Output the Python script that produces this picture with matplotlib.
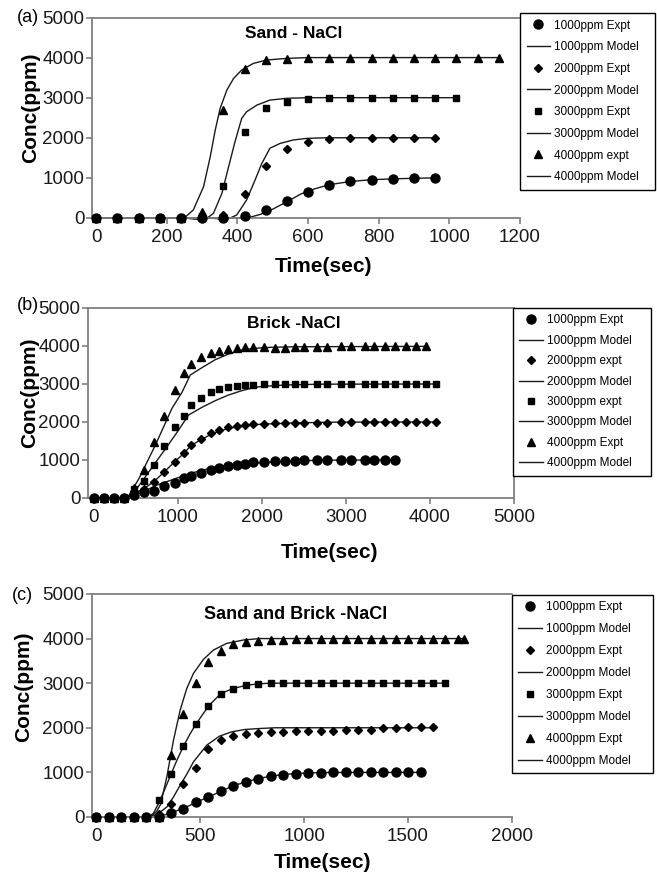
import matplotlib
matplotlib.use("Agg")
import matplotlib.pyplot as plt

plt.rcParams["font.family"] = ["Liberation Sans", "DejaVu Sans"]

# ========== Panel (a): Sand - NaCl ==========
a_t = [0, 60, 120, 180, 240, 300, 360, 420, 480, 540, 600, 660, 720, 780,
       840, 900, 960, 1020, 1080, 1140]
a_1000 = [0, 0, 0, 0, 0, 0, 0, 58, 208, 415, 640, 830, 915, 955, 970, 990, 1000]
a_2000 = [0, 0, 0, 0, 0, 0, 80, 600, 1305, 1730, 1890, 1970, 1990, 2000, 2000,
          2000, 2000]
a_3000 = [0, 0, 0, 0, 0, 40, 790, 2145, 2745, 2900, 2975, 2985, 3000, 3000,
          3000, 3000, 3000, 3000]
a_4000 = [0, 0, 0, 0, 0, 150, 2700, 3715, 3930, 3965, 4000, 4000, 4000, 4000,
          4000, 4000, 4000, 4000, 4000, 4000]

a_m1000_t = [0, 400, 430, 465, 500, 540, 580, 620, 660, 720, 780, 840, 900, 960]
a_m1000_c = [0, 0, 5, 90, 220, 405, 600, 730, 830, 910, 955, 975, 990, 1000]
a_m2000_t = [0, 320, 370, 398, 426, 450, 469, 492, 521, 558, 596, 650, 960]
a_m2000_c = [0, 0, -40, 75, 450, 950, 1360, 1740, 1860, 1945, 1985, 2000, 2000]
a_m3000_t = [0, 250, 290, 310, 332, 356, 375, 393, 412, 426, 455, 492, 540,
             600, 1020]
a_m3000_c = [0, 0, -40, -30, 115, 615, 1280, 1900, 2485, 2650, 2815, 2940,
             2985, 3000, 3000]
a_m4000_t = [0, 225, 247, 275, 304, 323, 337, 351, 370, 389, 412, 445, 483,
             540, 600, 1140]
a_m4000_c = [0, 0, -20, 200, 780, 1530, 2190, 2735, 3190, 3480, 3690, 3855,
             3940, 3980, 4000, 4000]

# ========== Panel (b): Brick -NaCl ==========
b_t = [0, 120, 240, 360, 480, 600, 720, 840, 960, 1075, 1155, 1280, 1400,
       1495, 1600, 1700, 1800, 1900, 2020, 2150, 2270, 2390, 2500, 2650, 2775,
       2940, 3060, 3230, 3340, 3460, 3580, 3710, 3835, 3955, 4070]
b_1000 = [0, 0, 0, 0, 70, 150, 195, 310, 400, 515, 580, 665, 735, 800, 845,
          880, 905, 935, 955, 965, 975, 985, 990, 995, 1000, 1000, 1000, 1000,
          1000, 1000, 1000]
b_2000 = [0, 0, 0, 0, 130, 240, 430, 693, 950, 1180, 1395, 1560, 1705, 1790,
          1855, 1895, 1925, 1940, 1950, 1960, 1965, 1970, 1975, 1980, 1985,
          1990, 1990, 2000, 2000, 2000, 2000, 2000, 2000, 2000, 2000]
b_3000 = [0, 0, 0, 0, 230, 440, 877, 1377, 1860, 2160, 2440, 2620, 2780, 2870,
          2920, 2950, 2970, 2985, 2990, 2995, 3000, 3000, 3000, 3000, 3000,
          3000, 3000, 3000, 3000, 3000, 3000, 3000, 3000, 3000, 3000]
b_4000 = [0, 0, 0, 0, 250, 737, 1460, 2160, 2840, 3280, 3535, 3720, 3805, 3860,
          3925, 3960, 3975, 3985, 3970, 3960, 3950, 3975, 3980, 3980, 3985,
          3990, 3990, 4000, 4000, 4000, 4000, 4000, 4000, 4000]

b_m1000_t = [0, 380, 455, 600, 733, 970, 1168, 1366, 1603, 1841, 2019, 2300,
             2700, 3580]
b_m1000_c = [0, 0, 70, 170, 325, 509, 658, 772, 860, 904, 930, 965, 995, 1000]
b_m2000_t = [0, 380, 480, 600, 720, 840, 960, 1075, 1155, 1280, 1400, 1600,
             1800, 2020, 2400, 2800, 4070]
b_m2000_c = [0, 0, 120, 250, 440, 690, 950, 1180, 1380, 1540, 1680, 1830,
             1910, 1945, 1975, 1995, 2000]
b_m3000_t = [0, 380, 495, 693, 851, 990, 1128, 1287, 1445, 1603, 1762, 1920,
             2019, 2300, 2700, 4070]
b_m3000_c = [0, 0, 193, 807, 1290, 1728, 2184, 2386, 2561, 2711, 2825, 2912,
             2939, 2975, 2995, 3000]
b_m4000_t = [0, 360, 416, 534, 733, 930, 1049, 1148, 1287, 1445, 1603, 1762,
             1920, 2100, 2400, 3955]
b_m4000_c = [0, 0, 60, 500, 1395, 2360, 2780, 3237, 3430, 3640, 3789, 3895,
             3940, 3965, 3980, 3990]

# ========== Panel (c): Sand and Brick -NaCl ==========
c_t = [0, 60, 120, 180, 240, 300, 360, 420, 480, 540, 600, 660, 720, 780, 840,
       900, 960, 1020, 1080, 1140, 1200, 1260, 1320, 1380, 1440, 1500, 1560,
       1620, 1680, 1740, 1770]
c_1000 = [0, 0, 0, 0, 0, 10, 100, 188, 330, 445, 577, 700, 786, 862, 914, 952,
          972, 988, 995, 1000, 1000, 1000, 1000, 1000, 1000, 1000, 1000]
c_2000 = [0, 0, 0, 0, 0, 60, 285, 750, 1105, 1535, 1715, 1805, 1857, 1886,
          1908, 1910, 1931, 1931, 1935, 1935, 1940, 1960, 1960, 2000, 2000,
          2010, 2010, 2010]
c_3000 = [0, 0, 0, 0, 0, 375, 955, 1590, 2080, 2485, 2760, 2880, 2950, 2985,
          2995, 3000, 3000, 3000, 3000, 3000, 3000, 3000, 3000, 3000, 3000,
          3000, 3000, 3000, 3000]
c_4000 = [0, 0, 0, 0, 0, 0, 1395, 2306, 3009, 3481, 3720, 3877, 3930, 3952,
          3960, 3970, 3985, 4000, 4000, 4000, 4000, 4000, 4000, 4000, 4000,
          4000, 4000, 4000, 4000, 4000, 4000]

c_m1000_t = [0, 280, 320, 360, 420, 480, 540, 600, 660, 720, 780, 840, 900,
             960, 1020, 1100, 1560]
c_m1000_c = [0, 0, 30, 100, 188, 330, 445, 577, 700, 786, 862, 914, 952, 972,
             988, 998, 1000]
c_m2000_t = [0, 260, 300, 340, 372, 404, 436, 468, 532, 593, 652, 716, 788,
             860, 1620]
c_m2000_c = [0, 0, 80, 225, 449, 711, 959, 1235, 1610, 1812, 1909, 1962, 1984,
             2000, 2000]
c_m3000_t = [0, 250, 275, 300, 330, 360, 390, 420, 450, 480, 540, 600, 660,
             720, 780, 840, 1680]
c_m3000_c = [0, 0, 80, 300, 620, 959, 1290, 1587, 1850, 2081, 2485, 2770, 2882,
             2950, 2985, 3000, 3000]
c_m4000_t = [0, 245, 270, 290, 310, 340, 372, 404, 436, 468, 516, 564, 628,
             708, 788, 1770]
c_m4000_c = [0, 0, 40, 120, 280, 900, 1720, 2395, 2883, 3219, 3533, 3742,
             3892, 3967, 4000, 4000]

MARKERS = [("o", 6.5), ("D", 3.9), ("s", 5.0), ("^", 6.0)]
GRAY = "#808080"


def draw_panel(ax, t, expt, models, xlim, xticks, title, title_xy, size,
               labels, leg_box, spacing, xlab_xy, ylab_xy, right_spine=False):
    handles = []
    for (mk, ms), y, (mt, mc) in zip(MARKERS, expt, models):
        h1, = ax.plot(t[:len(y)], y, linestyle="none", marker=mk, ms=ms,
                      color="black", clip_on=False, zorder=3)
        h2, = ax.plot(mt, mc, "-", color="#1a1a1a", lw=1.0, clip_on=False,
                      zorder=2)
        handles += [h1, h2]

    ax.set_xlim(*xlim)
    ax.set_ylim(0, 5000)
    ax.set_xticks(xticks)
    ax.set_yticks([0, 1000, 2000, 3000, 4000, 5000])
    for side in ["left", "bottom", "top", "right"]:
        ax.spines[side].set_color(GRAY)
        ax.spines[side].set_linewidth(1.3)
    ax.spines["right"].set_visible(right_spine)
    ax.tick_params(direction="out", length=4, width=1.2, color=GRAY,
                   labelsize=13.5, labelcolor="#1a1a1a")
    ax.tick_params(axis="y", pad=1.5)
    ax.tick_params(axis="x", pad=4)

    ax.text(title_xy[0], title_xy[1], title, transform=ax.transAxes,
            ha="center", va="center", fontsize=size, fontweight="bold")

    ax.set_xlabel("Time(sec)", fontsize=15, fontweight="bold")
    ax.xaxis.set_label_coords(*xlab_xy)
    ax.xaxis.label.set_va("center")
    ax.set_ylabel("Conc(ppm)", fontsize=15, fontweight="bold")
    ax.yaxis.set_label_coords(*ylab_xy)
    ax.yaxis.label.set_va("center")

    leg = fig.legend(handles, labels, loc="upper left", bbox_to_anchor=leg_box,
                     bbox_transform=fig.transFigure, mode="expand",
                     frameon=True, fancybox=False, edgecolor="black",
                     framealpha=1, fontsize=8.5, labelspacing=spacing,
                     handlelength=2.0, handletextpad=0.35, borderpad=0.55,
                     borderaxespad=0)
    leg.get_frame().set_linewidth(1.0)


fig = plt.figure(figsize=(6.57, 8.75), dpi=100)

ax_a = fig.add_axes([0.1400, 0.7509, 0.6514, 0.2291])
draw_panel(ax_a, a_t, [a_1000, a_2000, a_3000, a_4000],
           [(a_m1000_t, a_m1000_c), (a_m2000_t, a_m2000_c),
            (a_m3000_t, a_m3000_c), (a_m4000_t, a_m4000_c)],
           (-12, 1200), [0, 200, 400, 600, 800, 1000, 1200],
           "Sand - NaCl", (0.472, 0.918), 12.5,
           ["1000ppm Expt", "1000ppm Model", "2000ppm Expt", "2000ppm Model",
            "3000ppm Expt", "3000ppm Model", "4000ppm expt", "4000ppm Model"],
           (0.7915, 0.7794, 0.2055, 0.2057), 0.82,
           (0.54, -0.244), (-0.1425, 0.549))

ax_b = fig.add_axes([0.1339, 0.4309, 0.6484, 0.2171])
draw_panel(ax_b, b_t, [b_1000, b_2000, b_3000, b_4000],
           [(b_m1000_t, b_m1000_c), (b_m2000_t, b_m2000_c),
            (b_m3000_t, b_m3000_c), (b_m4000_t, b_m4000_c)],
           (-70, 5000), [0, 1000, 2000, 3000, 4000, 5000],
           "Brick -NaCl", (0.484, 0.919), 12.5,
           ["1000ppm Expt", "1000ppm Model", "2000ppm expt", "2000ppm Model",
            "3000ppm expt", "3000ppm Model", "4000ppm Expt", "4000ppm Model"],
           (0.7808, 0.456, 0.2100, 0.192), 0.71,
           (0.568, -0.289), (-0.136, 0.553), right_spine=True)

ax_c = fig.add_axes([0.1400, 0.0663, 0.6393, 0.2549])
draw_panel(ax_c, c_t, [c_1000, c_2000, c_3000, c_4000],
           [(c_m1000_t, c_m1000_c), (c_m2000_t, c_m2000_c),
            (c_m3000_t, c_m3000_c), (c_m4000_t, c_m4000_c)],
           (-20, 2000), [0, 500, 1000, 1500, 2000],
           "Sand and Brick -NaCl", (0.484, 0.906), 13,
           ["1000ppm Expt", "1000ppm Model", "2000ppm Expt", "2000ppm Model",
            "3000ppm Expt", "3000ppm Model", "4000ppm Expt", "4000ppm Model"],
           (0.7793, 0.1131, 0.2146, 0.2069), 0.84,
           (0.55, -0.206), (-0.162, 0.583))

# panel letters
fig.text(17 / 657, 1 - 17.5 / 875, "(a)", fontsize=13, va="center")
fig.text(17 / 657, 1 - 306 / 875, "(b)", fontsize=13, va="center")
fig.text(12 / 657, 1 - 595 / 875, "(c)", fontsize=13, va="center")

fig.savefig("out.png", dpi=100)
